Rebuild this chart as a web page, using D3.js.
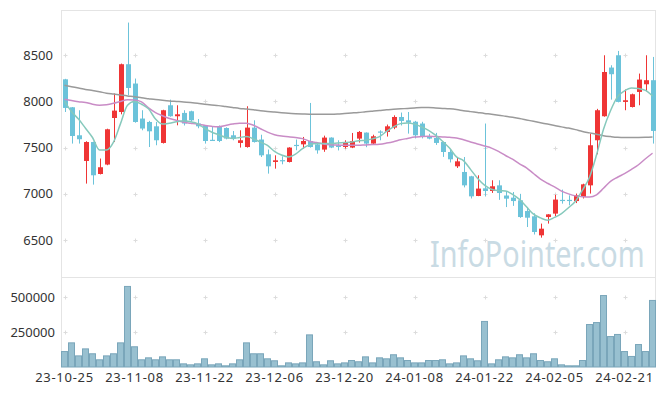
<!DOCTYPE html>
<html>
<head>
<meta charset="utf-8">
<script src="https://d3js.org/d3.v7.min.js"></script>
<style>
    body { margin: 0; background: #fff; }
    svg { display: block; font-family: 'Noto Sans', sans-serif; }
</style>
</head>
<body>
<svg width="665" height="396"></svg>
<script>
    // trading days shown on the chart
    var dates = [
        '23-10-25', '23-10-26', '23-10-27', '23-10-30', '23-10-31',
        '23-11-01', '23-11-02', '23-11-03', '23-11-06', '23-11-07', '23-11-08', '23-11-09', '23-11-10',
        '23-11-13', '23-11-14', '23-11-15', '23-11-16', '23-11-17', '23-11-20', '23-11-21', '23-11-22',
        '23-11-23', '23-11-24', '23-11-27', '23-11-28', '23-11-29', '23-11-30',
        '23-12-01', '23-12-04', '23-12-05', '23-12-06', '23-12-07', '23-12-08', '23-12-11', '23-12-12',
        '23-12-13', '23-12-14', '23-12-15', '23-12-18', '23-12-19', '23-12-20', '23-12-21', '23-12-22',
        '23-12-26', '23-12-27', '23-12-28',
        '24-01-02', '24-01-03', '24-01-04', '24-01-05', '24-01-08', '24-01-09', '24-01-10', '24-01-11',
        '24-01-12', '24-01-15', '24-01-16', '24-01-17', '24-01-18', '24-01-19', '24-01-22', '24-01-23',
        '24-01-24', '24-01-25', '24-01-26', '24-01-29', '24-01-30', '24-01-31',
        '24-02-01', '24-02-02', '24-02-05', '24-02-06', '24-02-07', '24-02-08', '24-02-13', '24-02-14',
        '24-02-15', '24-02-16', '24-02-19', '24-02-20', '24-02-21', '24-02-22', '24-02-23', '24-02-26',
        '24-02-27'
    ];

    var opens = [8240, 7937, 7634, 7356, 7561, 7215, 7317, 7821, 7886, 8403,
        8194, 7815, 7778, 7731, 7551, 7959, 7840, 7876, 7894, 7761,
        7742, 7585, 7731, 7713, 7634, 7551, 7507, 7717, 7588, 7428,
        7345, 7365, 7345, 7530, 7536, 7572, 7536, 7479, 7609, 7526,
        7507, 7501, 7598, 7663, 7544, 7675, 7670, 7717, 7832, 7796,
        7781, 7761, 7623, 7605, 7561, 7453, 7298, 7237, 7190, 6977,
        7060, 7031, 7092, 6982, 6959, 6930, 6814, 6757, 6551, 6749,
        6786, 6935, 6935, 6922, 6966, 7092, 7580, 7840, 8367, 8500,
        7995, 7940, 8103, 8186, 8230];
    var highs = [8245, 7940, 7905, 7570, 7565, 7382, 7705, 8086, 8410, 8854,
        8248, 7905, 7790, 7778, 7910, 8020, 7959, 7905, 7900, 7810,
        7745, 7731, 7740, 7720, 7680, 7688, 7948, 7796, 7640, 7480,
        7417, 7406, 7505, 7588, 7616, 7984, 7545, 7630, 7612, 7580,
        7580, 7659, 7680, 7665, 7640, 7688, 7750, 7850, 7880, 7886,
        7790, 7780, 7650, 7660, 7565, 7480, 7399, 7399, 7195, 7201,
        7761, 7147, 7147, 7030, 7020, 7000, 6857, 6790, 6678, 6780,
        6990, 7046, 6984, 7003, 7110, 7652, 7920, 8500, 8392, 8547,
        8129, 8085, 8302, 8500, 8482];
    var lows = [7886, 7544, 7544, 7111, 7100, 7210, 7310, 7561, 7861, 8067,
        7770, 7688, 7507, 7526, 7545, 7835, 7742, 7740, 7780, 7710,
        7544, 7572, 7560, 7590, 7580, 7501, 7500, 7555, 7399, 7219,
        7273, 7320, 7340, 7472, 7490, 7500, 7435, 7455, 7495, 7470,
        7490, 7495, 7555, 7505, 7530, 7580, 7620, 7700, 7740, 7652,
        7600, 7600, 7590, 7530, 7400, 7340, 7280, 7070, 6950, 6975,
        6973, 7010, 6935, 6857, 6870, 6740, 6641, 6560, 6526, 6678,
        6760, 6894, 6876, 6900, 6950, 7003, 7428, 7835, 8020, 7990,
        7905, 7935, 7959, 8110, 7544];
    var closes = [7930, 7626, 7591, 7561, 7201, 7288, 7699, 7901, 8403, 8146,
        7778, 7707, 7677, 7580, 7905, 7840, 7861, 7761, 7796, 7731,
        7572, 7580, 7572, 7598, 7598, 7580, 7717, 7561, 7417, 7298,
        7363, 7360, 7501, 7524, 7572, 7507, 7471, 7609, 7501, 7507,
        7551, 7572, 7670, 7544, 7623, 7666, 7731, 7832, 7789, 7771,
        7634, 7623, 7598, 7551, 7453, 7374, 7352, 7092, 6973, 7057,
        7031, 7082, 7009, 6948, 6922, 6749, 6742, 6587, 6623, 6778,
        6938, 6930, 6930, 6984, 7103, 7526, 7905, 8319, 8295, 7995,
        8013, 8078, 8237, 8230, 7681];
    var volumes = [114000, 176000, 83000, 133000, 98000, 55000, 83000, 98000, 176000, 579000,
        148000, 55000, 69000, 55000, 76000, 55000, 55000, 26000, 19000, 26000,
        62000, 19000, 26000, 12000, 26000, 55000, 176000, 98000, 98000, 62000,
        48000, 12000, 33000, 26000, 33000, 233000, 41000, 19000, 48000, 26000,
        33000, 50000, 41000, 76000, 33000, 69000, 62000, 91000, 69000, 50000,
        33000, 33000, 50000, 50000, 55000, 26000, 33000, 83000, 62000, 48000,
        329000, 26000, 55000, 76000, 69000, 91000, 69000, 98000, 50000, 41000,
        62000, 19000, 12000, 12000, 50000, 307000, 321000, 514000, 221000, 236000,
        114000, 79000, 164000, 114000, 479000];

    // moving averages as drawn on the chart
    var ma5 = [8000, 7890, 7810, 7710, 7610, 7475, 7475, 7560, 7760, 7960,
        8000, 7970, 7920, 7810, 7755, 7765, 7780, 7790, 7780, 7760,
        7710, 7670, 7640, 7612, 7600, 7610, 7620, 7595, 7560, 7525,
        7460, 7420, 7400, 7430, 7490, 7530, 7545, 7545, 7545, 7550,
        7555, 7561, 7575, 7580, 7595, 7620, 7675, 7725, 7760, 7767,
        7755, 7725, 7688, 7635, 7570, 7495, 7400, 7360, 7265, 7170,
        7095, 7050, 7035, 7030, 6995, 6940, 6860, 6780, 6740, 6715,
        6745, 6786, 6850, 6920, 7040, 7180, 7420, 7700, 7900, 8050,
        8115, 8146, 8140, 8120, 8060];
    var ma20 = [8025, 8010, 7998, 7990, 7970, 7960, 7965, 7980, 8000, 8018,
        8015, 7995, 7930, 7880, 7845, 7815, 7795, 7775, 7765, 7755,
        7742, 7731, 7725, 7740, 7755, 7765, 7765, 7742, 7705, 7668,
        7640, 7625, 7618, 7610, 7598, 7570, 7555, 7540, 7532, 7528,
        7526, 7526, 7526, 7530, 7533, 7538, 7550, 7565, 7585, 7600,
        7615, 7620, 7623, 7620, 7616, 7612, 7605, 7585, 7562, 7540,
        7518, 7495, 7460, 7415, 7375, 7325, 7282, 7220, 7160, 7115,
        7075, 7030, 7000, 6978, 6968, 6966, 6990, 7060, 7135, 7180,
        7219, 7265, 7315, 7380, 7440];
    var ma60 = [8175, 8160, 8145, 8130, 8118, 8105, 8090, 8080, 8070, 8060,
        8052, 8040, 8030, 8020, 8012, 8005, 8000, 7995, 7988, 7980,
        7970, 7962, 7955, 7945, 7935, 7925, 7918, 7910, 7900, 7892,
        7885, 7878, 7872, 7868, 7865, 7862, 7861, 7861, 7862, 7865,
        7870, 7875, 7880, 7888, 7895, 7902, 7910, 7915, 7920, 7925,
        7930, 7934, 7934, 7930, 7925, 7920, 7912, 7900, 7890, 7880,
        7870, 7862, 7852, 7840, 7828, 7815, 7800, 7785, 7770, 7755,
        7740, 7725, 7712, 7695, 7675, 7660, 7645, 7630, 7620, 7612,
        7609, 7609, 7610, 7612, 7616];

    var tickLabels = ['23-10-25', '23-11-08', '23-11-22', '23-12-06', '23-12-20',
        '24-01-08', '24-01-22', '24-02-05', '24-02-21'];
    var priceTicks = [6500, 7000, 7500, 8000, 8500];
    var volumeTicks = [250000, 500000];

    var plotLeft = 61, plotRight = 656, plotTop = 10, plotSplit = 277, plotBottom = 367;

    var svg = d3.select('svg');

    var x = d3.scaleBand()
        .domain(d3.range(dates.length))
        .range([plotLeft, plotRight])
        .padding(0);
    var y = d3.scaleLinear()
        .domain([6100, 8990])
        .range([plotSplit, plotTop]);
    var yv = d3.scaleLinear()
        .domain([0, 500000])
        .range([plotBottom, 297]);

    var cx = function(i) { return x(i) + x.bandwidth() / 2; };
    var tickIdx = tickLabels.map(function(d) { return dates.indexOf(d); });

    // watermark (narrowed with a horizontal scale)
    svg.append('text')
        .attr('transform', 'translate(430,267) scale(0.8,1)')
        .style('font-size', '36px')
        .style('fill', '#c9dbe4')
        .text('InfoPointer.com');

    // frame
    var frame = svg.append('g').attr('stroke', '#e4e4e4').attr('fill', 'none');
    frame.append('line').attr('x1', plotLeft).attr('x2', plotRight - 1).attr('y1', plotTop + 0.5).attr('y2', plotTop + 0.5);
    frame.append('line').attr('x1', plotLeft).attr('x2', plotRight - 1).attr('y1', plotSplit + 0.5).attr('y2', plotSplit + 0.5);
    frame.append('line').attr('x1', plotLeft + 0.5).attr('x2', plotLeft + 0.5).attr('y1', plotTop).attr('y2', plotBottom);
    frame.append('line').attr('x1', plotRight - 0.5).attr('x2', plotRight - 0.5).attr('y1', plotTop).attr('y2', plotBottom);

    // "+" grid marks
    var marks = [];
    tickIdx.forEach(function(i) {
        priceTicks.forEach(function(p) { marks.push([cx(i), y(p)]); });
        volumeTicks.forEach(function(v) { marks.push([cx(i), yv(v)]); });
    });
    svg.append('g').selectAll('path.mark')
        .data(marks)
        .enter()
        .append('path')
        .classed('mark', true)
        .attr('d', function(d) {
            var px = Math.round(d[0]) + 0.5, py = Math.round(d[1]) + 0.5;
            return 'M' + (px - 2) + ',' + py + 'H' + (px + 2) + 'M' + px + ',' + (py - 2) + 'V' + (py + 2);
        })
        .attr('stroke', '#dcdcdc')
        .attr('stroke-width', 1);

    // volume bars
    svg.append('g').selectAll('rect.vol')
        .data(volumes)
        .enter()
        .append('rect')
        .classed('vol', true)
        .attr('x', function(d, i) { return x(i) + 0.5; })
        .attr('y', function(d) { return yv(d) + 0.5; })
        .attr('width', x.bandwidth() - 1)
        .attr('height', function(d) { return Math.max(0, plotBottom - yv(d) - 0.5); })
        .attr('fill', '#98c0d0')
        .attr('stroke', '#7aa6ba')
        .attr('stroke-width', 1);

    // candles
    var candles = svg.append('g').selectAll('g.candle')
        .data(d3.range(dates.length))
        .enter()
        .append('g')
        .classed('candle', true);

    var colorOf = function(i) { return closes[i] >= opens[i] ? '#ef3535' : '#6cc3da'; };

    candles.append('line')
        .attr('x1', function(i) { return Math.round(cx(i)) + 0.5; })
        .attr('x2', function(i) { return Math.round(cx(i)) + 0.5; })
        .attr('y1', function(i) { return y(highs[i]); })
        .attr('y2', function(i) { return y(lows[i]); })
        .attr('stroke', colorOf)
        .attr('stroke-width', 1);

    candles.append('rect')
        .attr('x', function(i) { return Math.round(cx(i)) - 2; })
        .attr('width', 5)
        .attr('y', function(i) { return y(Math.max(opens[i], closes[i])); })
        .attr('height', function(i) {
            return Math.max(1.2, Math.abs(y(opens[i]) - y(closes[i])));
        })
        .attr('fill', colorOf);

    // moving average lines
    var line = d3.line()
        .x(function(d, i) { return cx(i); })
        .y(function(d) { return y(d); })
        .curve(d3.curveMonotoneX);

    [[ma60, '#9a9a9a'], [ma20, '#c98cc6'], [ma5, '#86c9bc']].forEach(function(s) {
        svg.append('path')
            .datum(s[0])
            .attr('d', line)
            .attr('fill', 'none')
            .attr('stroke', s[1])
            .attr('stroke-width', 1.5);
    });

    // axis labels
    var labels = svg.append('g').style('font-size', '13px').style('fill', '#333');

    labels.selectAll('text.py')
        .data(priceTicks)
        .enter()
        .append('text')
        .classed('py', true)
        .attr('x', 53)
        .attr('y', function(d) { return y(d) + 4.5; })
        .attr('text-anchor', 'end')
        .text(function(d) { return d; });

    labels.selectAll('text.vy')
        .data(volumeTicks)
        .enter()
        .append('text')
        .classed('vy', true)
        .attr('x', 55)
        .attr('y', function(d) { return yv(d) + 4.5; })
        .attr('text-anchor', 'end')
        .text(function(d) { return d; });

    labels.selectAll('text.xl')
        .data(tickLabels)
        .enter()
        .append('text')
        .classed('xl', true)
        .attr('x', function(d, k) { return cx(tickIdx[k]); })
        .attr('y', 381.5)
        .attr('text-anchor', 'middle')
        .style('letter-spacing', '0.7px')
        .text(function(d) { return d; });
</script>
</body>
</html>
